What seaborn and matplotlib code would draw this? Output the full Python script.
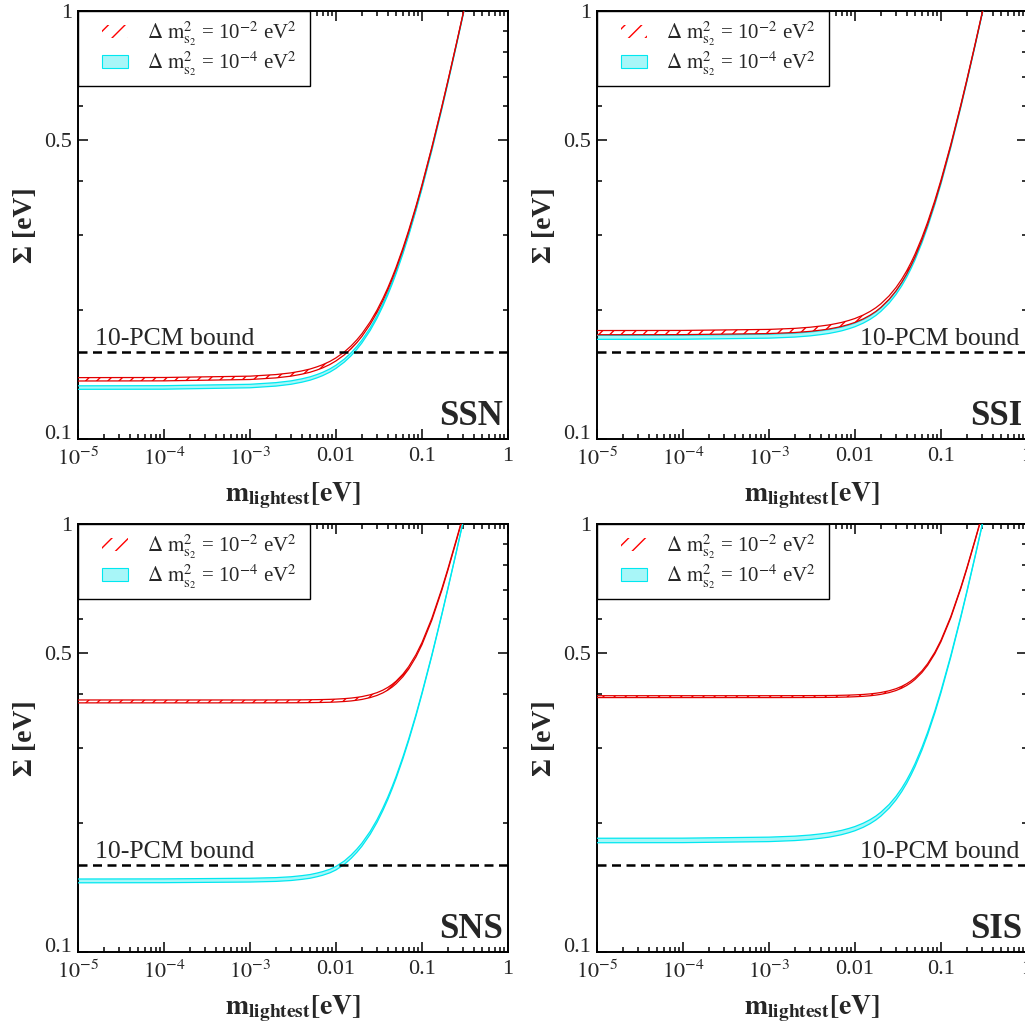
import matplotlib
matplotlib.use("Agg")
import matplotlib.pyplot as plt
import matplotlib.transforms as mtransforms
import seaborn as sns
from matplotlib.patches import Patch, Rectangle
from matplotlib.legend_handler import HandlerPatch
from matplotlib.ticker import FixedLocator, NullFormatter

# === Data ===
m_grid = [1e-5, 1e-4, 1e-3, 2e-3, 3e-3, 4e-3, 5e-3, 6e-3, 7e-3, 8.5e-3, 0.01, 0.0125, 0.015, 0.0175,
          0.02, 0.025, 0.03, 0.035, 0.04, 0.045, 0.05, 0.06, 0.07, 0.085, 0.1, 0.13, 0.17, 0.2,
          0.25, 0.3, 0.35]

# SSN
ssn_red_lo = [0.1366, 0.1367, 0.1377, 0.1389, 0.1402, 0.1417, 0.1432, 0.1449, 0.1466, 0.1493, 0.1522,
              0.1572, 0.1625, 0.1680, 0.1736, 0.1853, 0.1975, 0.2101, 0.2229, 0.2361, 0.2494, 0.2767,
              0.3046, 0.3471, 0.3902, 0.4776, 0.5954, 0.6843, 0.8331, 0.9823, 1.1317]
ssn_red_hi = [0.1391, 0.1392, 0.1402, 0.1414, 0.1427, 0.1442, 0.1457, 0.1474, 0.1491, 0.1518, 0.1547,
              0.1597, 0.1650, 0.1705, 0.1761, 0.1878, 0.2000, 0.2126, 0.2254, 0.2386, 0.2519, 0.2792,
              0.3071, 0.3496, 0.3927, 0.4801, 0.5979, 0.6868, 0.8356, 0.9848, 1.1342]
ssn_cyan_lo = [0.1306, 0.1307, 0.1317, 0.1329, 0.1342, 0.1357, 0.1372, 0.1389, 0.1406, 0.1433, 0.1462,
               0.1512, 0.1565, 0.1620, 0.1676, 0.1793, 0.1915, 0.2041, 0.2169, 0.2301, 0.2434, 0.2707,
               0.2986, 0.3411, 0.3842, 0.4716, 0.5894, 0.6783, 0.8271, 0.9763, 1.1257]
ssn_cyan_hi = [0.1331, 0.1332, 0.1342, 0.1354, 0.1367, 0.1382, 0.1397, 0.1414, 0.1431, 0.1458, 0.1487,
               0.1537, 0.1590, 0.1645, 0.1701, 0.1818, 0.1940, 0.2066, 0.2194, 0.2326, 0.2459, 0.2732,
               0.3011, 0.3436, 0.3867, 0.4741, 0.5919, 0.6808, 0.8296, 0.9788, 1.1282]

# SSI
ssi_red_lo = [0.1752, 0.1753, 0.1763, 0.1773, 0.1784, 0.1796, 0.1807, 0.1820, 0.1832, 0.1852, 0.1872,
              0.1908, 0.1946, 0.1986, 0.2029, 0.2120, 0.2218, 0.2322, 0.2431, 0.2546, 0.2664, 0.2912,
              0.3170, 0.3571, 0.3984, 0.4833, 0.5991, 0.6870, 0.8346, 0.9829, 1.1317]
ssi_red_hi = [0.1792, 0.1793, 0.1803, 0.1813, 0.1824, 0.1836, 0.1847, 0.1860, 0.1872, 0.1892, 0.1912,
              0.1948, 0.1986, 0.2026, 0.2069, 0.2160, 0.2258, 0.2362, 0.2471, 0.2586, 0.2704, 0.2952,
              0.3210, 0.3611, 0.4024, 0.4873, 0.6031, 0.6910, 0.8386, 0.9869, 1.1357]
ssi_cyan_lo = [0.1709, 0.1710, 0.1720, 0.1730, 0.1741, 0.1753, 0.1764, 0.1777, 0.1789, 0.1809, 0.1829,
               0.1865, 0.1903, 0.1943, 0.1986, 0.2077, 0.2175, 0.2279, 0.2388, 0.2503, 0.2621, 0.2869,
               0.3127, 0.3528, 0.3941, 0.4790, 0.5948, 0.6827, 0.8303, 0.9786, 1.1274]
ssi_cyan_hi = [0.1746, 0.1747, 0.1757, 0.1767, 0.1778, 0.1790, 0.1801, 0.1814, 0.1826, 0.1846, 0.1866,
               0.1902, 0.1940, 0.1980, 0.2023, 0.2114, 0.2212, 0.2316, 0.2425, 0.2540, 0.2658, 0.2906,
               0.3164, 0.3565, 0.3978, 0.4827, 0.5985, 0.6864, 0.8340, 0.9823, 1.1311]

# SNS
sns_red_lo = [0.3820, 0.3820, 0.3820, 0.3821, 0.3822, 0.3823, 0.3825, 0.3827, 0.3829, 0.3833, 0.3838,
              0.3848, 0.3860, 0.3875, 0.3891, 0.3930, 0.3976, 0.4030, 0.4091, 0.4159, 0.4233, 0.4398,
              0.4582, 0.4889, 0.5226, 0.5957, 0.6998, 0.7795, 0.9112, 1.0383, 1.1584]
sns_red_hi = [0.3880, 0.3880, 0.3880, 0.3881, 0.3882, 0.3883, 0.3885, 0.3887, 0.3889, 0.3893, 0.3898,
              0.3908, 0.3920, 0.3935, 0.3951, 0.3990, 0.4036, 0.4090, 0.4151, 0.4219, 0.4293, 0.4458,
              0.4642, 0.4949, 0.5286, 0.6017, 0.7058, 0.7855, 0.9172, 1.0443, 1.1644]
sns_cyan_lo = [0.1451, 0.1452, 0.1457, 0.1462, 0.1469, 0.1478, 0.1487, 0.1499, 0.1511, 0.1531, 0.1555,
               0.1602, 0.1655, 0.1710, 0.1766, 0.1884, 0.2008, 0.2138, 0.2270, 0.2406, 0.2544, 0.2827,
               0.3116, 0.3556, 0.4007, 0.4911, 0.6129, 0.7048, 0.8566, 1.0088, 1.1612]
sns_cyan_hi = [0.1481, 0.1482, 0.1487, 0.1492, 0.1499, 0.1508, 0.1517, 0.1529, 0.1541, 0.1561, 0.1585,
               0.1632, 0.1685, 0.1740, 0.1796, 0.1914, 0.2038, 0.2168, 0.2300, 0.2436, 0.2574, 0.2857,
               0.3146, 0.3586, 0.4037, 0.4941, 0.6159, 0.7078, 0.8596, 1.0118, 1.1642]

# SIS
sis_red_lo = [0.3930, 0.3930, 0.3930, 0.3931, 0.3932, 0.3933, 0.3934, 0.3936, 0.3939, 0.3943, 0.3948,
              0.3957, 0.3969, 0.3983, 0.3999, 0.4037, 0.4082, 0.4135, 0.4195, 0.4261, 0.4334, 0.4495,
              0.4676, 0.4978, 0.5309, 0.6032, 0.7063, 0.7854, 0.9164, 1.0430, 1.1627]
sis_red_hi = [0.3970, 0.3970, 0.3970, 0.3971, 0.3972, 0.3973, 0.3974, 0.3976, 0.3979, 0.3983, 0.3988,
              0.3997, 0.4009, 0.4023, 0.4039, 0.4077, 0.4122, 0.4175, 0.4235, 0.4301, 0.4374, 0.4535,
              0.4716, 0.5018, 0.5349, 0.6072, 0.7103, 0.7894, 0.9204, 1.0470, 1.1667]
sis_cyan_lo = [0.1800, 0.1801, 0.1811, 0.1821, 0.1832, 0.1844, 0.1855, 0.1868, 0.1880, 0.1900, 0.1920,
               0.1956, 0.1994, 0.2034, 0.2077, 0.2168, 0.2266, 0.2370, 0.2479, 0.2594, 0.2712, 0.2960,
               0.3218, 0.3619, 0.4032, 0.4881, 0.6039, 0.6918, 0.8394, 0.9877, 1.1365]
sis_cyan_hi = [0.1844, 0.1845, 0.1855, 0.1865, 0.1876, 0.1888, 0.1899, 0.1912, 0.1924, 0.1944, 0.1964,
               0.2000, 0.2038, 0.2078, 0.2121, 0.2212, 0.2310, 0.2414, 0.2523, 0.2638, 0.2756, 0.3004,
               0.3262, 0.3663, 0.4076, 0.4925, 0.6083, 0.6962, 0.8438, 0.9921, 1.1409]

pcm_bound = 0.16
x_ticks = [1e-5, 1e-4, 1e-3, 0.01, 0.1, 1]
x_ticklabels = [r"$10^{-5}$", r"$10^{-4}$", r"$10^{-3}$", "0.01", "0.1", "1"]
y_ticks = [0.1, 0.5, 1]
y_ticklabels = ["0.1", "0.5", "1"]
y_minor = [0.2, 0.3, 0.4, 0.6, 0.7, 0.8, 0.9]
legend_labels = [r"$\Delta\ \mathrm{m}^2_{\mathrm{s}_2}$ = 10$^{-2}$ eV$^2$",
                 r"$\Delta\ \mathrm{m}^2_{\mathrm{s}_2}$ = 10$^{-4}$ eV$^2$"]

panels = [
    ("SSN", ssn_red_lo, ssn_red_hi, ssn_cyan_lo, ssn_cyan_hi, "left"),
    ("SSI", ssi_red_lo, ssi_red_hi, ssi_cyan_lo, ssi_cyan_hi, "right"),
    ("SNS", sns_red_lo, sns_red_hi, sns_cyan_lo, sns_cyan_hi, "left"),
    ("SIS", sis_red_lo, sis_red_hi, sis_cyan_lo, sis_cyan_hi, "right"),
]
positions = [
    [0.0761, 0.5709, 0.4195, 0.4184],
    [0.5824, 0.5709, 0.4195, 0.4184],
    [0.0761, 0.0694, 0.4195, 0.4184],
    [0.5824, 0.0694, 0.4195, 0.4184],
]

# === Style ===
sns.set_style("ticks")
plt.rcParams["font.family"] = ["Liberation Serif", "DejaVu Serif"]
plt.rcParams["mathtext.fontset"] = "stix"
plt.rcParams["hatch.linewidth"] = 1.0

RED = "#e00000"
CYAN = "#00e8f0"
CYAN_FILL = "#a8f6f8"


def offset_patch(legend, orig_handle, xdescent, ydescent, width, height, fontsize):
    # small swatch pushed to the right part of the handle box
    return Rectangle((-xdescent + 0.38 * width, -ydescent), 0.62 * width, height)


fig = plt.figure(figsize=(10.25, 10.23), dpi=100)

for (name, r_lo, r_hi, c_lo, c_hi, bound_side), pos in zip(panels, positions):
    ax = fig.add_axes(pos)
    ax.set_xscale("log")
    ax.set_yscale("log")

    # cyan band
    ax.fill_between(m_grid, c_lo, c_hi, facecolor=CYAN_FILL, edgecolor="none", zorder=2)
    sns.lineplot(x=m_grid, y=c_lo, ax=ax, color=CYAN, lw=0.9, zorder=3)
    sns.lineplot(x=m_grid, y=c_hi, ax=ax, color=CYAN, lw=0.9, zorder=3)

    # red hatched band
    ax.fill_between(m_grid, r_lo, r_hi, facecolor="none", edgecolor="red", hatch="///",
                    linewidth=0, zorder=4)
    sns.lineplot(x=m_grid, y=r_lo, ax=ax, color=RED, lw=0.9, zorder=5)
    sns.lineplot(x=m_grid, y=r_hi, ax=ax, color=RED, lw=0.9, zorder=5)

    # 10-PCM bound
    ax.axhline(pcm_bound, color="black", lw=1.8, dashes=(3.6, 2.2), zorder=6)
    if bound_side == "left":
        ax.text(0.04, 0.219, "10-PCM bound", transform=ax.transAxes, fontsize=18.5,
                ha="left", va="baseline")
    else:
        ax.text(0.982, 0.219, "10-PCM bound", transform=ax.transAxes, fontsize=18.5,
                ha="right", va="baseline")

    ax.text(0.988, 0.015, name, transform=ax.transAxes, fontsize=25,
            fontweight="bold", ha="right", va="bottom")

    ax.set_xlim(1e-5, 1)
    ax.set_ylim(0.1, 1)

    ax.xaxis.set_major_locator(FixedLocator(x_ticks))
    ax.set_xticklabels(x_ticklabels)
    ax.yaxis.set_major_locator(FixedLocator(y_ticks))
    ax.set_yticklabels(y_ticklabels)
    ax.yaxis.set_minor_locator(FixedLocator(y_minor))
    ax.yaxis.set_minor_formatter(NullFormatter())
    ax.tick_params(which="both", direction="in", top=True, right=True,
                   labelsize=16, width=1.1, color="black")
    ax.tick_params(axis="x", which="major", pad=6)
    ax.tick_params(axis="y", which="major", pad=4)
    ax.tick_params(which="major", length=7)
    ax.tick_params(which="minor", length=3.5)
    # lift the bottom y label a little, as in the reference
    lbl = ax.get_yticklabels()[0]
    lbl.set_transform(lbl.get_transform() + mtransforms.ScaledTranslation(0, 7 / 100, fig.dpi_scale_trans))
    for s in ax.spines.values():
        s.set_linewidth(1.4)
        s.set_color("black")

    ax.set_xlabel(r"$\mathbf{m}_{\mathbf{lightest}}\mathbf{[eV]}$", fontsize=20, labelpad=8)
    ax.set_ylabel("Σ [eV]", fontsize=20, fontweight="bold", labelpad=5)

    handles = [Patch(facecolor="white", edgecolor="red", hatch="//", lw=0),
               Patch(facecolor=CYAN_FILL, edgecolor=CYAN, lw=0.8)]
    leg = ax.legend(handles, legend_labels, loc="upper left", borderaxespad=0,
                    bbox_to_anchor=(0, 1, 0.54, 0), mode="expand",
                    fontsize=15, frameon=True, fancybox=False, handlelength=2.0,
                    handleheight=0.6, handletextpad=0.9, borderpad=0.4,
                    labelspacing=0.05, edgecolor="black", framealpha=1,
                    handler_map={Patch: HandlerPatch(patch_func=offset_patch)})
    leg.get_frame().set_linewidth(1.0)
    leg.set_zorder(10)

fig.savefig("out.png", dpi=100)
plt.close(fig)
